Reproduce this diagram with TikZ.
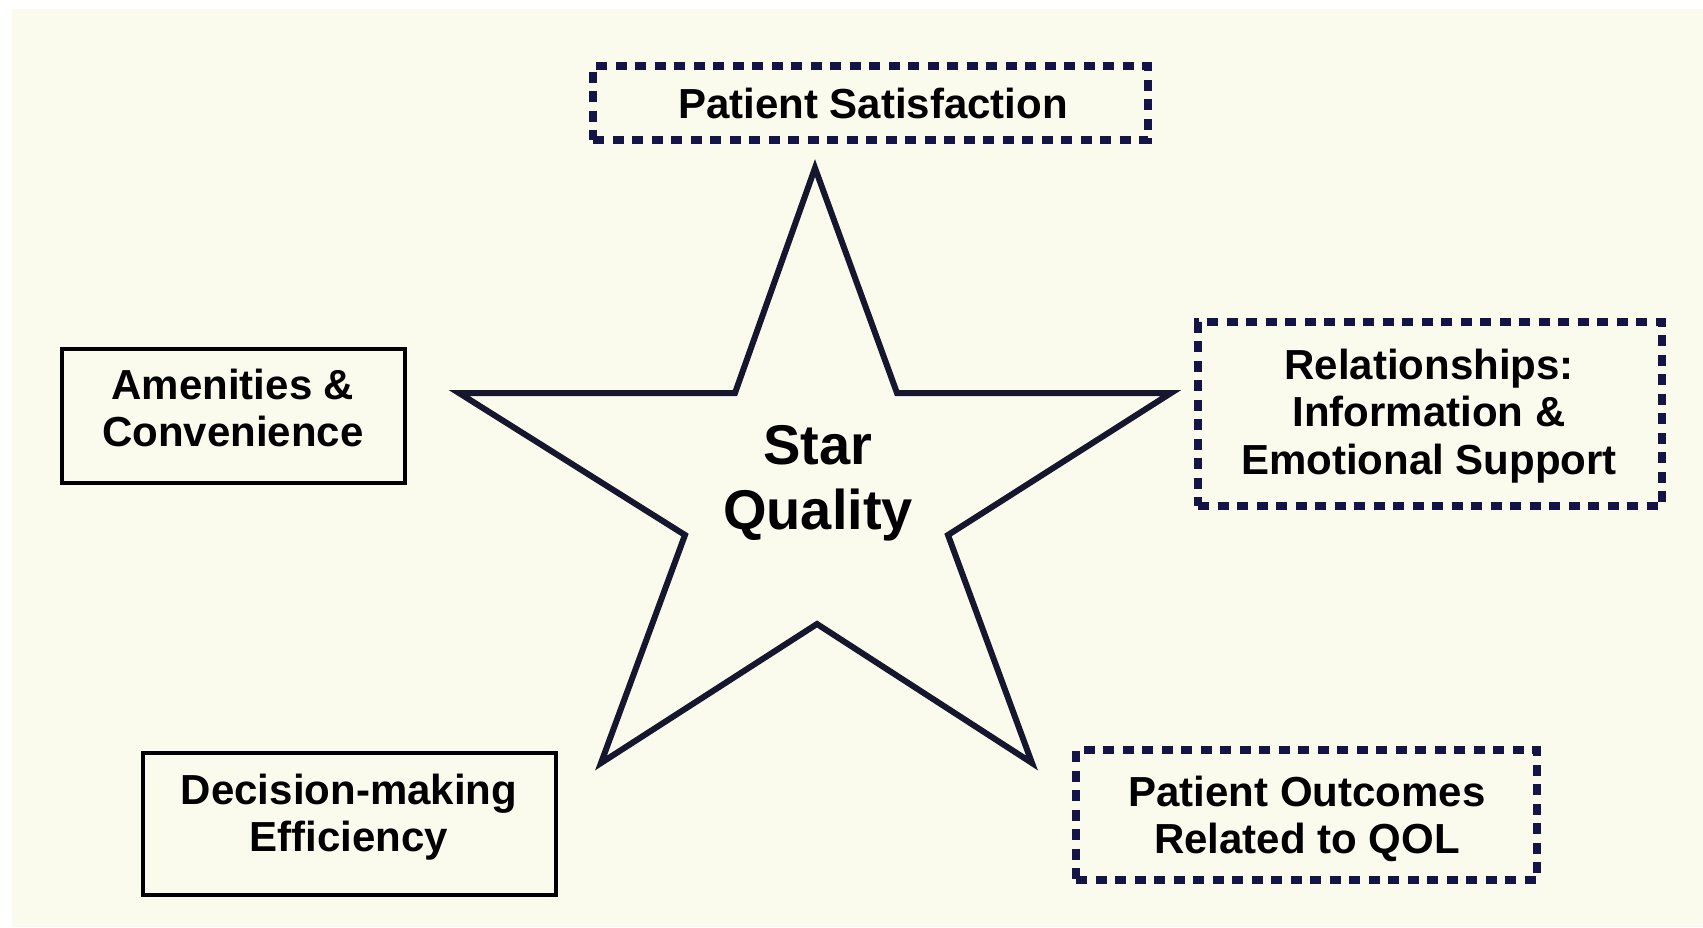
\documentclass[tikz,border=0pt]{standalone}
\usepackage{fontspec}
\setmainfont{Liberation Sans}
\definecolor{cream}{RGB}{250,251,236}
\definecolor{navy}{RGB}{20,20,70}
\definecolor{starline}{RGB}{22,22,46}
\tikzset{
  solidbox/.style={draw=black, line width=3.5pt, inner sep=0pt},
  dotbox/.style={draw=navy, line width=8.5pt, dash pattern=on 11pt off 8.5pt, inner sep=0pt},
  boxtext/.style={align=center, inner sep=0pt, font=\fontsize{42}{47.5}\selectfont\bfseries, text=black},
  starstroke/.style={draw=starline, line width=6pt, line join=miter},
}
\begin{document}
\begin{tikzpicture}[x=1pt,y=-1pt]
\useasboundingbox (0,0) rectangle (1703,927);
\fill[white] (0,0) rectangle (1703,927);
\fill[cream] (12,9) rectangle (1703,927);
% star
\draw[starstroke] (815,168) -- (897,393) -- (1171,393) -- (948,535) -- (1032,763)
  -- (817,624) -- (601,763) -- (685,535) -- (459,393) -- (735,393) -- cycle;
\node[align=center, font=\fontsize{56}{65}\selectfont\bfseries] (star) at (818,483) {Star\\Quality};
% boxes
\node[dotbox, minimum width=555pt, minimum height=74pt] (sat) at (870.5,103) {};
\node[boxtext] (sattext) at (873,103) {Patient Satisfaction};
\node[solidbox, minimum width=343pt, minimum height=134pt] (amen) at (233.5,416) {};
\node[boxtext] (amentext) at (233,408) {Amenities \&\\Convenience};
\node[dotbox, minimum width=464pt, minimum height=184pt] (rel) at (1430,414) {};
\node[boxtext] (reltext) at (1429,416) {Relationships:\\Information \&\\Emotional Support};
\node[solidbox, minimum width=413pt, minimum height=142pt] (dec) at (349.5,824) {};
\node[boxtext] (dectext) at (349,817) {Decision-making\\Efficiency};
\node[dotbox, minimum width=461pt, minimum height=130pt] (out) at (1306.5,815) {};
\node[boxtext] (outtext) at (1307,819) {Patient Outcomes\\Related to QOL};
\end{tikzpicture}
\end{document}
